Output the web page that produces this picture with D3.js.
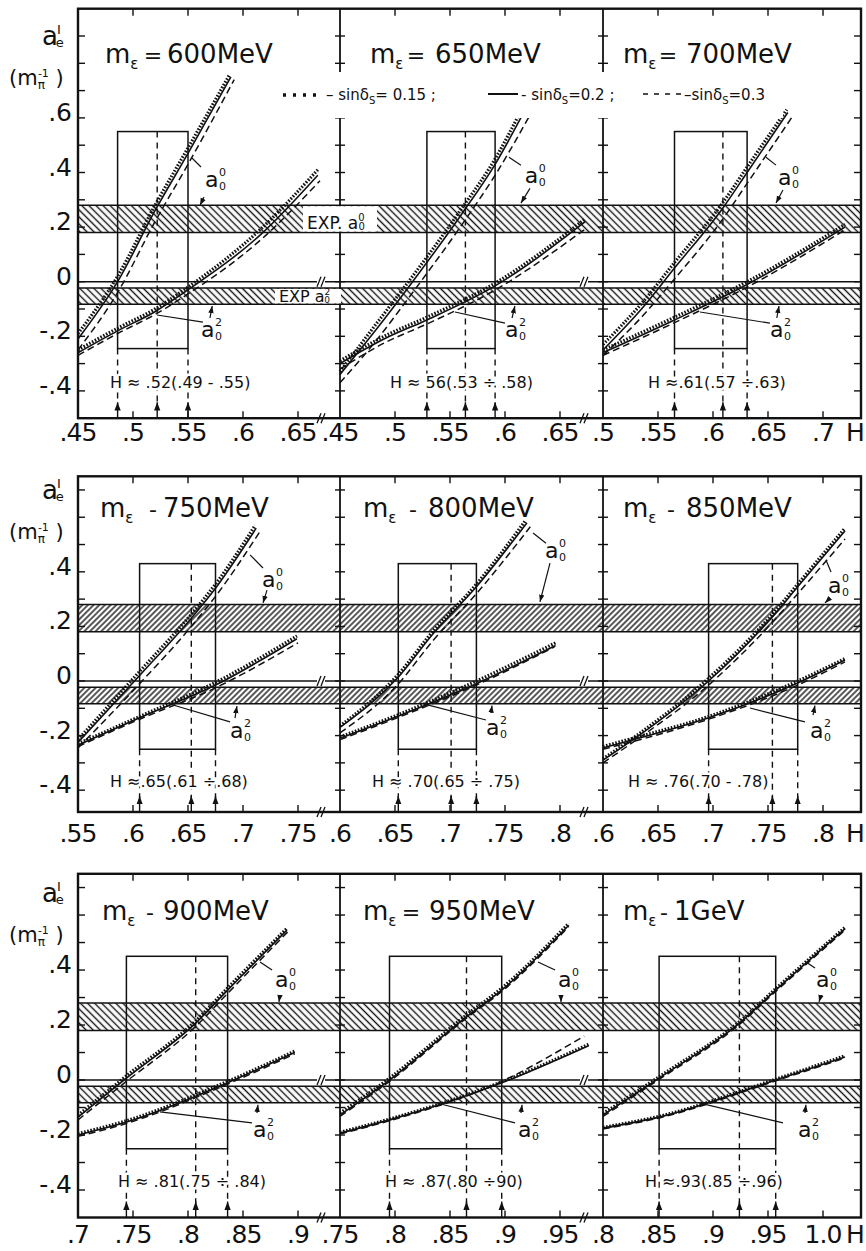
<!DOCTYPE html>
<html>
<head>
<meta charset="utf-8">
<script src="https://cdn.jsdelivr.net/npm/d3@7/dist/d3.min.js"></script>
<style>
  body { margin: 0; background: #fff; }
  svg { display: block; font-family: "DejaVu Sans", sans-serif; fill: #111; }
  .frame { fill: none; stroke: #111; stroke-width: 2.4; }
  .tick { stroke: #111; stroke-width: 1.4; }
  .solid { fill: none; stroke: #111; stroke-width: 1.6; }
  .dot { fill: none; stroke: #111; stroke-width: 3.2; stroke-dasharray: 1.6 1.6; }
  .dash { fill: none; stroke: #111; stroke-width: 1.5; stroke-dasharray: 7 4; }
  .box { fill: none; stroke: #111; stroke-width: 1.5; }
  .guide { stroke: #111; stroke-width: 1.4; stroke-dasharray: 6 5; }
  .lead { stroke: #111; stroke-width: 1.2; fill: none; }
  .xl { letter-spacing: -1px; }
  .halo { stroke: #fff; stroke-width: 5px; paint-order: stroke; stroke-linejoin: round; }
</style>
</head>
<body>
<svg id="chart" width="866" height="1251"></svg>
<script>
// ---- data ----
var masses = ['600MeV', '650MeV', '700MeV', '750MeV', '800MeV', '850MeV', '900MeV', '950MeV', '1GeV'];
var massSigns = ['=', '=', '=', '-', '-', '-', '-', '=', '-'];
var hStart = [.45, .45, .5, .55, .6, .6, .7, .75, .8];
var hTicks = [
    [.45, .5, .55, .6, .65], [.45, .5, .55, .6, .65], [.5, .55, .6, .65, .7],
    [.55, .6, .65, .7, .75], [.6, .65, .7, .75, .8], [.6, .65, .7, .75, .8],
    [.7, .75, .8, .85, .9], [.75, .8, .85, .9, .95], [.8, .85, .9, .95, 1.0]
];
var aTicks = [[.6, .4, .2, 0, -.2, -.4], [.4, .2, 0, -.2, -.4], [.4, .2, 0, -.2, -.4]];
var aDomains = [[-0.5, 1.0], [-0.48, 0.75], [-0.5, 0.75]];

var expA00 = [0.18, 0.28];
var expA02 = [-0.083, -0.023];

// allowed H window: [low, central, high]
var boxH = [
    [.486, .522, .55], [.529, .564, .591], [.565, .609, .631],
    [.606, .653, .675], [.653, .701, .724], [.696, .754, .777],
    [.744, .807, .836], [.795, .865, .897], [.851, .924, .957]
];
var boxA = [[-0.245, 0.55], [-0.25, 0.43], [-0.25, 0.45]];
var hResult = [
    'H \u2248 .52(.49 - .55)', 'H \u2248 56(.53 \u00f7 .58)', 'H \u2248.61(.57 \u00f7.63)',
    'H \u2248.65(.61 \u00f7.68)', 'H \u2248 .70(.65 \u00f7 .75)', 'H \u2248 .76(.70 - .78)',
    'H \u2248 .81(.75 \u00f7 .84)', 'H \u2248 .87(.80 \u00f790)', 'H \u2248.93(.85 \u00f7.96)'
];

// a_0^0 and a_0^2 vs H, for sin(delta_S) = 0.15 (dot), 0.2 (solid), 0.3 (dash)
var a00_600 = {
    dot:   [[.45, -.19], [.486, .02], [.52, .28], [.55, .49], [.588, .76]],
    solid: [[.45, -.21], [.486, 0], [.52, .26], [.55, .47], [.589, .75]],
    dash:  [[.45, -.25], [.486, -.04], [.52, .22], [.55, .43], [.592, .74]]
};
var a02_600 = {
    dot:   [[.45, -.25], [.486, -.17], [.52, -.10], [.55, -.02], [.618, .20], [.668, .41]],
    solid: [[.45, -.26], [.486, -.18], [.52, -.11], [.55, -.03], [.618, .18], [.668, .39]],
    dash:  [[.45, -.27], [.486, -.19], [.52, -.12], [.55, -.045], [.618, .16], [.67, .37]]
};
var a00_650 = {
    dot:   [[.45, -.33], [.48, -.17], [.516, .02], [.561, .27], [.591, .45], [.615, .63]],
    solid: [[.45, -.34], [.48, -.19], [.516, 0], [.561, .25], [.591, .43], [.617, .62]],
    dash:  [[.45, -.37], [.48, -.23], [.516, -.04], [.561, .21], [.591, .39], [.624, .62]]
};
var a02_650 = {
    dot:   [[.45, -.29], [.49, -.20], [.529, -.13], [.589, -.01], [.673, .23]],
    solid: [[.45, -.30], [.49, -.21], [.529, -.14], [.589, -.02], [.673, .22]],
    dash:  [[.45, -.32], [.49, -.225], [.529, -.155], [.589, -.035], [.672, .19]]
};
var a00_700 = {
    dot:   [[.5, -.23], [.535, -.08], [.565, .07], [.609, .29], [.631, .42], [.667, .63]],
    solid: [[.5, -.25], [.535, -.10], [.565, .05], [.609, .27], [.631, .40], [.668, .62]],
    dash:  [[.5, -.27], [.535, -.13], [.565, .01], [.609, .23], [.631, .36], [.673, .61]]
};
var a02_700 = {
    dot:   [[.5, -.25], [.565, -.13], [.631, 0], [.72, .21]],
    solid: [[.5, -.26], [.565, -.14], [.631, -.01], [.72, .20]],
    dash:  [[.5, -.27], [.565, -.15], [.631, -.02], [.72, .19]]
};
var a00_750 = {
    dot:   [[.55, -.215], [.606, .035], [.653, .245], [.675, .355], [.711, .57]],
    solid: [[.55, -.225], [.606, .02], [.653, .23], [.675, .34], [.712, .56]],
    dash:  [[.55, -.245], [.606, -.01], [.653, .20], [.675, .31], [.715, .545]]
};
var a02_750 = {
    dot:   [[.55, -.23], [.606, -.13], [.675, -.005], [.749, .165]],
    solid: [[.55, -.235], [.606, -.135], [.675, -.015], [.749, .155]],
    dash:  [[.55, -.24], [.606, -.14], [.675, -.025], [.75, .14]]
};
var a00_800 = {
    dot:   [[.6, -.165], [.652, .02], [.685, .185], [.724, .355], [.769, .59]],
    solid: [[.6, -.17], [.652, .01], [.685, .175], [.724, .345], [.77, .58]],
    dash:  [[.6, -.19], [.652, -.015], [.685, .15], [.724, .32], [.773, .565]]
};
var a02_800 = {
    dot:   [[.6, -.205], [.652, -.125], [.724, 0], [.796, .14]],
    solid: [[.6, -.21], [.652, -.13], [.724, -.01], [.796, .13]],
    dash:  [[.6, -.215], [.652, -.135], [.724, -.015], [.795, .125]]
};
var a00_850 = {
    dot:   [[.6, -.285], [.627, -.21], [.696, .01], [.754, .245], [.777, .355], [.82, .56]],
    solid: [[.6, -.29], [.627, -.216], [.696, 0], [.754, .235], [.777, .345], [.82, .55]],
    dash:  [[.6, -.30], [.627, -.225], [.696, -.015], [.754, .215], [.777, .32], [.82, .52]]
};
var a02_850 = {
    dot:   [[.6, -.24], [.627, -.21], [.696, -.13], [.777, 0], [.82, .082]],
    solid: [[.6, -.245], [.627, -.216], [.696, -.135], [.777, -.007], [.82, .077]],
    dash:  [[.6, -.25], [.627, -.222], [.696, -.14], [.777, -.015], [.82, .07]]
};
var a00_900 = {
    dot:   [[.7, -.128], [.744, .015], [.807, .215], [.836, .335], [.89, .552]],
    solid: [[.7, -.135], [.744, .007], [.807, .207], [.836, .327], [.89, .545]],
    dash:  [[.7, -.145], [.744, -.005], [.807, .195], [.836, .315], [.891, .54]]
};
var a02_900 = {
    dot:   [[.7, -.195], [.744, -.148], [.836, -.005], [.897, .105]],
    solid: [[.7, -.2], [.744, -.153], [.836, -.01], [.897, .1]],
    dash:  [[.7, -.205], [.744, -.158], [.836, -.015], [.897, .095]]
};
var a00_950 = {
    dot:   [[.75, -.12], [.795, .007], [.865, .237], [.897, .334], [.958, .57]],
    solid: [[.75, -.127], [.795, 0], [.865, .23], [.897, .327], [.958, .563]],
    dash:  [[.75, -.132], [.795, -.005], [.865, .225], [.897, .322], [.958, .558]]
};
var a02_950 = {
    dot:   [[.75, -.19], [.795, -.142], [.897, -.007], [.976, .13]],
    solid: [[.75, -.193], [.795, -.145], [.897, -.01], [.976, .125]],
    dash:  [[.75, -.196], [.795, -.148], [.897, -.005], [.972, .16]]
};
var a00_1000 = {
    dot:   [[.8, -.122], [.851, .012], [.924, .212], [.957, .332], [1.02, .555]],
    solid: [[.8, -.127], [.851, .007], [.924, .207], [.957, .327], [1.02, .55]],
    dash:  [[.8, -.132], [.851, .002], [.924, .202], [.957, .322], [1.02, .545]]
};
var a02_1000 = {
    dot:   [[.8, -.172], [.851, -.132], [.957, .003], [1.02, .088]],
    solid: [[.8, -.175], [.851, -.135], [.957, 0], [1.02, .084]],
    dash:  [[.8, -.178], [.851, -.138], [.957, -.003], [1.02, .08]]
};
var panelA00 = [a00_600, a00_650, a00_700, a00_750, a00_800, a00_850, a00_900, a00_950, a00_1000];
var panelA02 = [a02_600, a02_650, a02_700, a02_750, a02_800, a02_850, a02_900, a02_950, a02_1000];

// curve labels (H, a) and their leader lines / arrows
var a00Label = [[.5655, .347], [.618, .361], [.659, .354], [.7173, .344], [.7864, .45], [.8045, .322], [.879, .338], [.9482, .338], [.9936, .338]];
var a00Leader = [
    [[.5618, .42], [.5536, .453]], [[.6145, .427], [.6036, .456]], [[.6573, .427], [.6482, .456]],
    [[.7182, .414], [.7064, .462]], [[.7873, .505], [.7755, .542]], [[.8073, .399], [.8027, .443]],
    [[.8764, .4], [.8655, .429]], [[.9455, .4], [.93, .429]], [[.9927, .407], [.9845, .429]]
];
var a00Arrow = [
    [[.5645, .31], [.561, .28]], [[.6227, .342], [.6145, .288]], [[.6636, .336], [.6573, .288]],
    [[.7218, .333], [.7182, .286]], [[.7909, .432], [.7818, .29]], [[.8064, .304], [.8018, .286]],
    [[.8836, .309], [.8827, .284]], [[.9509, .309], [.9509, .284]], [[.9982, .309], [.9964, .284]]
];
var a02Label = [[.5618, -.203], [.6, -.203], [.6518, -.203], [.6882, -.209], [.7327, -.198], [.7882, -.209], [.859, -.207], [.9118, -.207], [.9773, -.207]];
var a02Leader = [
    [[.5636, -.148], [.5218, -.122]], [[.6, -.152], [.5545, -.111]], [[.6518, -.152], [.5882, -.111]],
    [[.6882, -.15], [.6364, -.088]], [[.7327, -.143], [.677, -.085]], [[.7836, -.15], [.7336, -.099]],
    [[.8582, -.156], [.7745, -.116]], [[.9091, -.156], [.8345, -.08]], [[.9636, -.156], [.8882, -.084]]
];
var a02Arrow = [
    [[.570, -.133], [.572, -.089]], [[.6064, -.133], [.609, -.089]], [[.658, -.133], [.66, -.089]],
    [[.6927, -.136], [.6945, -.092]], [[.7373, -.117], [.7382, -.09]], [[.7909, -.125], [.7927, -.09]],
    [[.8627, -.12], [.8636, -.09]], [[.9145, -.12], [.9155, -.09]], [[.9836, -.12], [.9845, -.09]]
];

// ---- layout ----
var panelLeft = [78, 340, 603], panelRight = [340, 603, 861];
var rowTop = [8.7, 476.3, 873.8], rowBottom = [418.2, 812, 1217.5];
var pxPerH = 1100;
var hatchIds = ['hatchBack', 'hatchFwd', 'hatchBack'];
var titleY = [63, 517, 920];
var titleDx = [27, 30, 20, 22, 23, 20, 24, 23, 20];
var signDx = [48, 46, 45, 53, 50, 48, 48, 48, 41];
var massDx = [62, 65, 63, 63, 65, 63, 61, 66, 51];
var hTextDx = [32, 50, 45, 32, 32, 25, 40, 45, 42];
var xLabelY = [441, 842, 1243];

var svg = d3.select('#chart');
svg.append('rect').attr('width', 866).attr('height', 1251).attr('fill', '#fff');

var defs = svg.append('defs');
function hatch(id, angle, gap) {
    var p = defs.append('pattern').attr('id', id)
        .attr('patternUnits', 'userSpaceOnUse')
        .attr('width', gap).attr('height', gap)
        .attr('patternTransform', 'rotate(' + angle + ')');
    p.append('rect').attr('width', gap).attr('height', gap).attr('fill', '#fff');
    p.append('line').attr('x1', gap / 2).attr('y1', 0).attr('x2', gap / 2).attr('y2', gap)
        .attr('stroke', '#111').attr('stroke-width', 1.4);
}
hatch('hatchBack', -45, 5);
hatch('hatchFwd', 45, 4);

defs.append('marker').attr('id', 'arr')
    .attr('viewBox', '0 0 8 8').attr('refX', 8).attr('refY', 4)
    .attr('markerWidth', 6).attr('markerHeight', 6).attr('orient', 'auto')
    .append('path').attr('d', 'M0,1 L8,4 L0,7 Z').attr('fill', '#111');

var yScales = aDomains.map(function(d, i) {
    return d3.scaleLinear().domain(d).range([rowBottom[i], rowTop[i]]);
});

function fmtH(v) {
    if (v >= 1) return '1.0';
    return d3.format('.2f')(v).replace(/^0/, '').replace(/0$/, '');
}
function fmtA(v) {
    if (v === 0) return '0';
    return (v < 0 ? '-' : '') + d3.format('.1f')(Math.abs(v)).replace('0.', '.');
}

// "a" with stacked superscript and subscript, as one text
function aLabel(g, px, py, sup, size) {
    var s = size * 0.5;
    var t = g.append('text').attr('x', px).attr('y', py).attr('font-size', size);
    t.append('tspan').text('a');
    t.append('tspan').attr('font-size', s).attr('dx', 0.5).attr('dy', -size * 0.5).text(sup);
    t.append('tspan').attr('font-size', s).attr('dx', -s * 0.636).attr('dy', size * 0.62).text('0');
}

function breakMark(g, x, y) {
    g.append('rect').attr('x', x - 3).attr('y', y - 2).attr('width', 8).attr('height', 4).attr('fill', '#fff');
    [0, 4].forEach(function(o) {
        g.append('line').attr('x1', x - 3 + o).attr('y1', y + 5).attr('x2', x + 1 + o).attr('y2', y - 5)
            .attr('stroke', '#111').attr('stroke-width', 1.3);
    });
}

var line = d3.line().curve(d3.curveMonotoneX);

for (var r = 0; r < 3; r++) {
    var y = yScales[r];
    var rg = svg.append('g');

    // experimental bands
    [expA00, expA02].forEach(function(b) {
        rg.append('rect').attr('x', panelLeft[0]).attr('y', y(b[1]))
            .attr('width', panelRight[2] - panelLeft[0]).attr('height', y(b[0]) - y(b[1]))
            .attr('fill', 'url(#' + hatchIds[r] + ')');
        [b[0], b[1]].forEach(function(v) {
            rg.append('line').attr('x1', panelLeft[0]).attr('x2', panelRight[2])
                .attr('y1', y(v)).attr('y2', y(v)).attr('stroke', '#111').attr('stroke-width', 1.5);
        });
    });
    rg.append('line').attr('x1', panelLeft[0]).attr('x2', panelRight[2])
        .attr('y1', y(0)).attr('y2', y(0)).attr('stroke', '#111').attr('stroke-width', 1.5);

    for (var c = 0; c < 3; c++) {
        var p = r * 3 + c;
        var g = svg.append('g');
        var x = d3.scaleLinear()
            .domain([hStart[p], hStart[p] + (panelRight[c] - panelLeft[c]) / pxPerH])
            .range([panelLeft[c], panelRight[c]]);
        line.x(function(d) { return x(d[0]); }).y(function(d) { return y(d[1]); });

        // allowed-H box and guides
        var bh = boxH[p], ba = boxA[r];
        g.append('rect').attr('class', 'box')
            .attr('x', x(bh[0])).attr('y', y(ba[1]))
            .attr('width', x(bh[2]) - x(bh[0])).attr('height', y(ba[0]) - y(ba[1]));
        var yb = rowBottom[r];
        g.append('line').attr('class', 'guide').attr('x1', x(bh[1])).attr('x2', x(bh[1]))
            .attr('y1', y(ba[1])).attr('y2', yb - 14);
        [bh[0], bh[2]].forEach(function(h) {
            g.append('line').attr('class', 'guide').attr('x1', x(h)).attr('x2', x(h))
                .attr('y1', y(ba[0])).attr('y2', yb - 14);
        });
        bh.forEach(function(h) {
            g.append('line').attr('x1', x(h)).attr('x2', x(h)).attr('y1', yb).attr('y2', yb - 16)
                .attr('stroke', '#111').attr('stroke-width', 1.4).attr('marker-end', 'url(#arr)');
        });

        // curves
        [panelA00[p], panelA02[p]].forEach(function(cv) {
            g.append('path').attr('class', 'dash').attr('d', line(cv.dash));
            g.append('path').attr('class', 'solid').attr('d', line(cv.solid));
            g.append('path').attr('class', 'dot').attr('d', line(cv.dot));
        });

        // curve labels
        aLabel(g, x(a00Label[p][0]), y(a00Label[p][1]), '0', 22);
        aLabel(g, x(a02Label[p][0]), y(a02Label[p][1]), '2', 22);
        [a00Leader[p], a02Leader[p]].forEach(function(l) {
            g.append('line').attr('class', 'lead')
                .attr('x1', x(l[0][0])).attr('y1', y(l[0][1])).attr('x2', x(l[1][0])).attr('y2', y(l[1][1]));
        });
        [a00Arrow[p], a02Arrow[p]].forEach(function(l) {
            g.append('line').attr('class', 'lead').attr('marker-end', 'url(#arr)')
                .attr('x1', x(l[0][0])).attr('y1', y(l[0][1])).attr('x2', x(l[1][0])).attr('y2', y(l[1][1]));
        });

        // top / bottom ticks
        hTicks[p].forEach(function(h) {
            var px = x(h);
            if (px - panelLeft[c] < 2) return;
            g.append('line').attr('class', 'tick').attr('x1', px).attr('x2', px)
                .attr('y1', rowTop[r]).attr('y2', rowTop[r] + 7);
            g.append('line').attr('class', 'tick').attr('x1', px).attr('x2', px)
                .attr('y1', rowBottom[r]).attr('y2', rowBottom[r] - 7);
        });
        g.selectAll('text.xl').data(hTicks[p]).enter().append('text')
            .attr('class', 'xl')
            .attr('x', function(d) { return x(d); })
            .attr('y', xLabelY[r])
            .attr('text-anchor', 'middle')
            .attr('font-size', 25)
            .text(fmtH);

        // title
        var tx = panelLeft[c] + titleDx[p];
        var t = g.append('text').attr('x', tx).attr('y', titleY[r]).attr('font-size', 26);
        t.append('tspan').text('m');
        t.append('tspan').attr('font-size', 15).attr('dy', 6).text('\u03b5');
        g.append('text').attr('x', tx + signDx[p]).attr('y', titleY[r]).attr('font-size', 22)
            .attr('text-anchor', 'middle').text(massSigns[p]);
        g.append('text').attr('x', tx + massDx[p]).attr('y', titleY[r]).attr('font-size', 26)
            .text(masses[p]);

        // H result (white halo where the guides run through it)
        g.append('text').attr('class', 'halo')
            .attr('x', panelLeft[c] + hTextDx[p]).attr('y', y(-0.39))
            .attr('font-size', 16).text(hResult[p]);

        if (c < 2) {
            breakMark(g, panelRight[c] - 20, y(0));
            breakMark(g, panelRight[c] - 20, rowBottom[r]);
        }
    }

    // a ticks on frame edges and dividers
    var aT = d3.range(Math.ceil(aDomains[r][0] * 10 + 0.01), Math.floor(aDomains[r][1] * 10 - 0.01) + 1)
        .map(function(v) { return v / 10; });
    aT.forEach(function(v) {
        rg.append('line').attr('class', 'tick').attr('x1', panelLeft[0]).attr('x2', panelLeft[0] + 7)
            .attr('y1', y(v)).attr('y2', y(v));
        rg.append('line').attr('class', 'tick').attr('x1', panelRight[2]).attr('x2', panelRight[2] - 7)
            .attr('y1', y(v)).attr('y2', y(v));
        [panelRight[0], panelRight[1]].forEach(function(dx) {
            rg.append('line').attr('class', 'tick').attr('x1', dx - 5).attr('x2', dx + 5)
                .attr('y1', y(v)).attr('y2', y(v));
        });
    });
    rg.selectAll('text.yl').data(aTicks[r]).enter().append('text')
        .attr('class', 'yl')
        .attr('x', 72).attr('y', function(d) { return y(d) + 3; })
        .attr('text-anchor', 'end').attr('font-size', 25)
        .text(fmtA);

    // frame and dividers
    svg.append('rect').attr('class', 'frame')
        .attr('x', panelLeft[0]).attr('y', rowTop[r])
        .attr('width', panelRight[2] - panelLeft[0]).attr('height', rowBottom[r] - rowTop[r]);
    [panelRight[0], panelRight[1]].forEach(function(dx) {
        svg.append('line').attr('x1', dx).attr('x2', dx).attr('y1', rowTop[r]).attr('y2', rowBottom[r])
            .attr('stroke', '#111').attr('stroke-width', 1.8);
    });

    // H label at right end
    svg.append('text').attr('x', 846).attr('y', xLabelY[r]).attr('font-size', 25).text('H');

    // axis title: a_e^I over (m_pi^-1)
    var ay = titleY[r] - 18;
    var ttl = svg.append('text').attr('x', 42).attr('y', ay).attr('font-size', 26);
    ttl.append('tspan').text('a');
    ttl.append('tspan').attr('font-size', 13).attr('dx', -1).attr('dy', -11).text('I');
    ttl.append('tspan').attr('font-size', 13).attr('dx', -5).attr('dy', 13).text('e');
    var at = svg.append('text').attr('x', 9).attr('y', ay + 40).attr('font-size', 21);
    at.append('tspan').text('(m');
    at.append('tspan').attr('font-size', 12).attr('dy', 4).text('\u03c0');
    at.append('tspan').attr('font-size', 11).attr('dy', -12).attr('dx', -7).text('-1');
    at.append('tspan').attr('dy', 8).text(' )');
}

// experimental band labels (top row)
var y0s = yScales[0];
svg.append('rect').attr('x', 303).attr('y', y0s(expA00[1]) + 1).attr('width', 74)
    .attr('height', y0s(expA00[0]) - y0s(expA00[1]) - 2).attr('fill', '#fff');
var e1 = svg.append('text').attr('x', 307).attr('y', y0s(expA00[0]) - 4).attr('font-size', 17);
e1.append('tspan').text('EXP. a');
e1.append('tspan').attr('font-size', 10).attr('dy', -8).text('0');
e1.append('tspan').attr('font-size', 10).attr('dx', -6).attr('dy', 9).text('0');
svg.append('rect').attr('x', 275).attr('y', y0s(expA02[1]) + 1).attr('width', 66)
    .attr('height', y0s(expA02[0]) - y0s(expA02[1]) - 2).attr('fill', '#fff');
var e2 = svg.append('text').attr('x', 279).attr('y', y0s(expA02[0]) - 2).attr('font-size', 16);
e2.append('tspan').text('EXP a');
e2.append('tspan').attr('font-size', 9).attr('dy', -7).text('2');
e2.append('tspan').attr('font-size', 9).attr('dx', -6).attr('dy', 8).text('0');

// legend (top row)
var lg = svg.append('g');
lg.append('rect').attr('x', 278).attr('y', 72).attr('width', 505).attr('height', 46).attr('fill', '#fff');
lg.append('line').attr('x1', 283).attr('x2', 322).attr('y1', 95).attr('y2', 95)
    .attr('stroke', '#111').attr('stroke-width', 3.5).attr('stroke-dasharray', '3 7');
lg.append('line').attr('x1', 488).attr('x2', 518).attr('y1', 94).attr('y2', 94)
    .attr('stroke', '#111').attr('stroke-width', 2);
lg.append('line').attr('x1', 643).attr('x2', 682).attr('y1', 94).attr('y2', 94)
    .attr('stroke', '#111').attr('stroke-width', 1.6).attr('stroke-dasharray', '5 6');
[[326, '\u2013 sin\u03b4', '= 0.15 ;'], [521, '- sin\u03b4', '=0.2 ;'], [684, '\u2013sin\u03b4', '=0.3']].forEach(function(l) {
    var t = lg.append('text').attr('x', l[0]).attr('y', 100).attr('font-size', 15);
    t.append('tspan').text(l[1]);
    t.append('tspan').attr('font-size', 10).attr('dy', 4).text('S');
    t.append('tspan').attr('dy', -4).text(l[2]);
});
</script>
</body>
</html>
